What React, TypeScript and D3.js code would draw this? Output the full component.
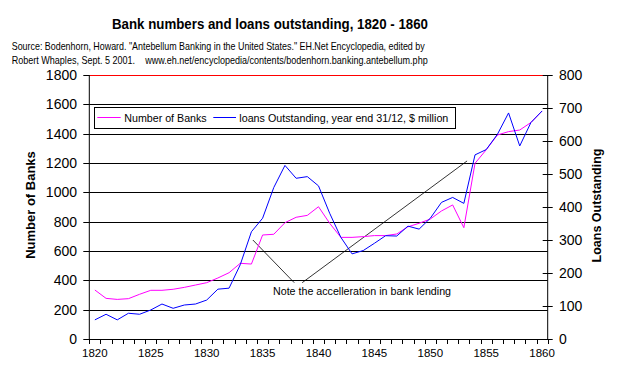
import React from "react";
import * as d3 from "d3";

const years: number[] = d3.range(1820, 1861);
const banks: number[] = [334, 277, 270, 275, 305, 332, 332, 339, 352, 368, 384, 416, 452, 516, 511, 709, 714, 793, 830, 843, 902, 789, 693, 693, 698, 705, 705, 716, 765, 789, 818, 873, 914, 759, 1198, 1290, 1391, 1414, 1425, 1476, 1555];
const loans: number[] = [58, 75, 58, 78, 75, 88, 106, 93, 103, 106, 118, 151, 154, 225, 325, 366, 459, 526, 487, 492, 464, 381, 308, 258, 268, 290, 313, 312, 342, 333, 366, 414, 429, 411, 558, 574, 620, 685, 585, 656, 691];
const leftTicks: number[] = [0, 200, 400, 600, 800, 1000, 1200, 1400, 1600, 1800];
const rightTicks: number[] = [0, 100, 200, 300, 400, 500, 600, 700, 800];
const xLabels: number[] = [1820, 1825, 1830, 1835, 1840, 1845, 1850, 1855, 1860];
// annotation arrows in data units: [year index, banks value]
const noteLine1: [number, number][] = [[14.13, 675], [17.83, 384]];
const noteLine2: [number, number][] = [[18.54, 384], [33.29, 1214]];
const noteText = "Note the accelleration in bank lending";

const W = 626, H = 379;
const L = 89.3, R = 547.7, T = 75, B = 339;
const FONT = "'Liberation Sans', Arial, sans-serif";

export default function App() {
  const x = d3.scaleBand<number>().domain(years).range([L, R]).padding(0);
  const bw = x.bandwidth();
  const cx = (yr: number) => (x(yr) as number) + bw / 2;
  const xi = d3.scaleLinear().domain([0, 1]).range([L + bw / 2, L + bw / 2 + bw]);
  const yL = d3.scaleLinear().domain([0, 1800]).range([B, T]);
  const yR = d3.scaleLinear().domain([0, 800]).range([B, T]);

  const lineBanks = d3.line<number>().x((_, i) => cx(years[i])).y((d) => yL(d));
  const lineLoans = d3.line<number>().x((_, i) => cx(years[i])).y((d) => yR(d));
  const noteGen = d3.line<[number, number]>().x((d) => xi(d[0])).y((d) => yL(d[1]));

  const boundaries = d3.range(0, years.length + 1).map((i) => L + i * bw);

  return (
    <svg width={W} height={H} style={{ position: "absolute", left: 0, top: 0, background: "#fff" }} fontFamily={FONT}>
      <rect x={0} y={0} width={W} height={H} fill="#fff" />
      {/* title */}
      <text x={270} y={29} textAnchor="middle" fontSize={15} fontWeight="bold" textLength={316} lengthAdjust="spacingAndGlyphs">
        Bank numbers and loans outstanding, 1820 - 1860
      </text>
      <text x={11.7} y={50} fontSize={11.5} textLength={413} lengthAdjust="spacingAndGlyphs">
        Source: Bodenhorn, Howard. "Antebellum Banking in the United States." EH.Net Encyclopedia, edited by
      </text>
      <text x={11.7} y={64} fontSize={11.5} textLength={416} lengthAdjust="spacingAndGlyphs" xmlSpace="preserve">
        {"Robert Whaples, Sept. 5 2001.    www.eh.net/encyclopedia/contents/bodenhorn.banking.antebellum.php"}
      </text>

      {/* gridlines */}
      {leftTicks.filter((t) => t > 0 && t < 1800).map((t) => (
        <line key={"g" + t} x1={L} x2={R} y1={Math.round(yL(t)) + 0.5} y2={Math.round(yL(t)) + 0.5} stroke="#000" strokeWidth={1} />
      ))}
      <line x1={L} x2={R} y1={T + 0.5} y2={T + 0.5} stroke="#f00" strokeWidth={1} />

      {/* left axis */}
      <line x1={L} x2={L} y1={T} y2={B} stroke="#000" />
      {leftTicks.map((t) => (
        <g key={"l" + t}>
          <line x1={L - 6} x2={L} y1={Math.round(yL(t)) + 0.5} y2={Math.round(yL(t)) + 0.5} stroke="#000" />
          <text x={77} y={yL(t)} dy="0.36em" textAnchor="end" fontSize={14}>{t}</text>
        </g>
      ))}
      {/* right axis */}
      <line x1={R} x2={R} y1={T} y2={B} stroke="#000" />
      {rightTicks.map((t) => (
        <g key={"r" + t}>
          <line x1={R - 5} x2={R + 5} y1={Math.round(yR(t)) + 0.5} y2={Math.round(yR(t)) + 0.5} stroke="#000" />
          <text x={559} y={yR(t)} dy="0.36em" textAnchor="start" fontSize={14}>{t}</text>
        </g>
      ))}
      {/* x axis */}
      <line x1={L} x2={R} y1={B + 0.5} y2={B + 0.5} stroke="#000" />
      {boundaries.map((bx, i) => (
        <line key={"xt" + i} x1={Math.round(bx) + 0.5} x2={Math.round(bx) + 0.5} y1={B} y2={B + 5} stroke="#000" />
      ))}
      {xLabels.map((yr) => (
        <text key={"xl" + yr} x={cx(yr)} y={357} textAnchor="middle" fontSize={11.5}>{yr}</text>
      ))}

      {/* axis titles */}
      <text transform={`translate(35,205) rotate(-90)`} textAnchor="middle" fontSize={13} fontWeight="bold">Number of Banks</text>
      <text transform={`translate(601,205.5) rotate(-90)`} textAnchor="middle" fontSize={12.5} fontWeight="bold">Loans Outstanding</text>

      {/* legend */}
      <rect x={94.5} y={107.5} width={361} height={21} fill="#fff" stroke="#000" />
      <line x1={97.3} x2={120.7} y1={117.5} y2={117.5} stroke="#f0f" />
      <text x={124.3} y={121.5} fontSize={11.5} textLength={82.4} lengthAdjust="spacingAndGlyphs">Number of Banks</text>
      <line x1={213.3} x2={236} y1={117.5} y2={117.5} stroke="#00f" />
      <text x={239.3} y={121.5} fontSize={11.5} textLength={209} lengthAdjust="spacingAndGlyphs">loans Outstanding, year end 31/12, $ million</text>

      {/* annotation */}
      <path d={noteGen(noteLine1) || ""} stroke="#000" fill="none" strokeWidth={0.8} />
      <path d={noteGen(noteLine2) || ""} stroke="#000" fill="none" strokeWidth={0.8} />
      <text x={273} y={295} fontSize={11.5} textLength={178} lengthAdjust="spacingAndGlyphs">{noteText}</text>

      {/* series */}
      <path d={lineBanks(banks) || ""} stroke="#f0f" fill="none" strokeWidth={1} />
      <path d={lineLoans(loans) || ""} stroke="#00f" fill="none" strokeWidth={1} />
    </svg>
  );
}
